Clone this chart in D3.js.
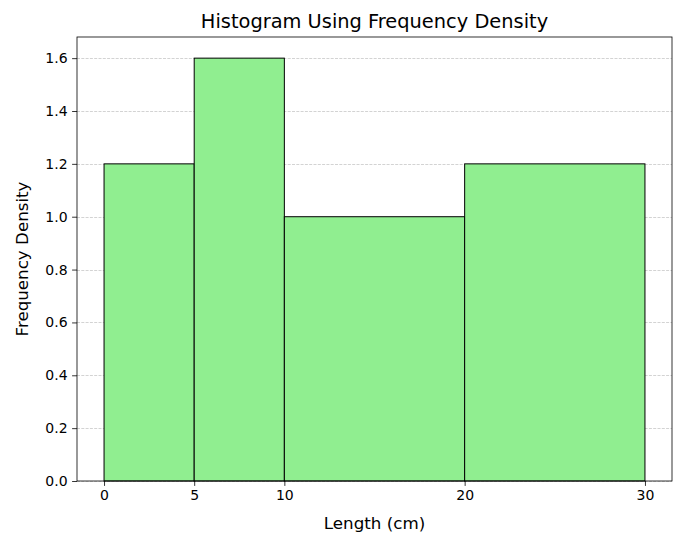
<!DOCTYPE html>
<html>
<head>
<meta charset="utf-8">
<script src="https://cdn.jsdelivr.net/npm/d3@7"></script>
<style>
  html, body { margin: 0; padding: 0; background: #fff; }
  svg { display: block; font-family: "DejaVu Sans", sans-serif; }
</style>
</head>
<body>
<svg id="chart" width="688" height="553"></svg>
<script>
const binEdges = [0, 5, 10, 20, 30];
const densities = [1.2, 1.6, 1.0, 1.2];
const xTicks = [0, 5, 10, 20, 30];
const yTicks = [0.0, 0.2, 0.4, 0.6, 0.8, 1.0, 1.2, 1.4, 1.6];
const title = "Histogram Using Frequency Density";
const xLabel = "Length (cm)";
const yLabel = "Frequency Density";

const bars = densities.map((d, i) => ({ x0: binEdges[i], x1: binEdges[i + 1], d }));

const mL = 77, mR = 672, mT = 37, mB = 481;
const svg = d3.select("#chart");

const x = d3.scaleLinear().domain([-1.5, 31.5]).range([mL, mR]);
const y = d3.scaleLinear().domain([0, 1.68]).range([mB, mT]);

// grid
svg.append("g").selectAll("line").data(yTicks).join("line")
  .attr("x1", mL).attr("x2", mR)
  .attr("y1", d => Math.round(y(d)) + 0.5).attr("y2", d => Math.round(y(d)) + 0.5)
  .attr("stroke", "#b0b0b0").attr("stroke-opacity", 0.7)
  .attr("stroke-width", 0.8).attr("stroke-dasharray", "3,1.3");

// bars
svg.append("g").selectAll("rect").data(bars).join("rect")
  .attr("x", d => x(d.x0)).attr("width", d => x(d.x1) - x(d.x0))
  .attr("y", d => y(d.d)).attr("height", d => y(0) - y(d.d))
  .attr("fill", "#90EE90").attr("stroke", "#000").attr("stroke-width", 1);

// axes
const xAxis = d3.axisBottom(x).tickValues(xTicks).tickFormat(d3.format("d")).tickSize(4.9).tickPadding(4.5);
const yAxis = d3.axisLeft(y).tickValues(yTicks).tickFormat(d3.format(".1f")).tickSize(4.9).tickPadding(4.5);

const gx = svg.append("g").attr("transform", `translate(0,${mB})`).call(xAxis);
const gy = svg.append("g").attr("transform", `translate(${mL},0)`).call(yAxis);
[gx, gy].forEach(g => {
  g.select(".domain").remove();
  g.selectAll("line").attr("stroke", "#000").attr("stroke-width", 0.8);
  g.selectAll("text").attr("fill", "#000").style("font-size", "14px").style("font-family", "DejaVu Sans, sans-serif");
});

// spines
svg.append("rect").attr("x", mL).attr("y", mT).attr("width", mR - mL).attr("height", mB - mT)
  .attr("fill", "none").attr("stroke", "#000").attr("stroke-width", 0.8);

// title & labels
svg.append("text").attr("x", (mL + mR) / 2).attr("y", 28).attr("text-anchor", "middle")
  .style("font-size", "19.4px").attr("fill", "#000").text(title);
svg.append("text").attr("x", (mL + mR) / 2).attr("y", 529).attr("text-anchor", "middle")
  .style("font-size", "16.7px").attr("fill", "#000").text(xLabel);
svg.append("text").attr("transform", `translate(27.5,${(mT + mB) / 2}) rotate(-90)`).attr("text-anchor", "middle")
  .style("font-size", "16.7px").attr("fill", "#000").text(yLabel);
</script>
</body>
</html>
